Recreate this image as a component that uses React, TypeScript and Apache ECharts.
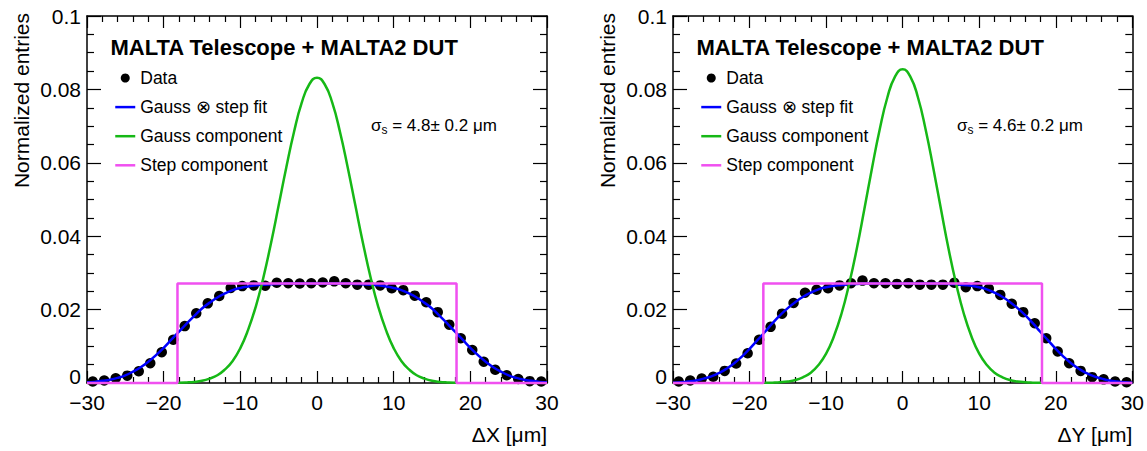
import React, { useEffect, useRef } from 'react';
import * as echarts from 'echarts';

// ---------- data ----------
const binCenters = [
  -29.25, -27.75, -26.25, -24.75, -23.25, -21.75, -20.25, -18.75, -17.25, -15.75,
  -14.25, -12.75, -11.25, -9.75, -8.25, -6.75, -5.25, -3.75, -2.25, -0.75,
  0.75, 2.25, 3.75, 5.25, 6.75, 8.25, 9.75, 11.25, 12.75, 14.25,
  15.75, 17.25, 18.75, 20.25, 21.75, 23.25, 24.75, 26.25, 27.75, 29.25,
];

const dataDX = [
  0.0004, 0.0007, 0.0013, 0.0020, 0.0032, 0.0054, 0.0084, 0.0118, 0.0155, 0.0190,
  0.0217, 0.0237, 0.0259, 0.0264, 0.0266, 0.0265, 0.0273, 0.0272, 0.0271, 0.0272,
  0.0274, 0.0277, 0.0272, 0.0268, 0.0268, 0.0266, 0.0258, 0.0253, 0.0238, 0.0220,
  0.0193, 0.0159, 0.0122, 0.0090, 0.0058, 0.0036, 0.0021, 0.0011, 0.0005, 0.0004,
];

const dataDY = [
  0.0004, 0.0007, 0.0012, 0.0017, 0.0033, 0.0053, 0.0081, 0.0118, 0.0153, 0.0189,
  0.0218, 0.0246, 0.0254, 0.0258, 0.0266, 0.0272, 0.0279, 0.0272, 0.0272, 0.0270,
  0.0272, 0.0268, 0.0268, 0.0268, 0.0273, 0.0261, 0.0264, 0.0257, 0.0240, 0.0216,
  0.0193, 0.0163, 0.0122, 0.0086, 0.0054, 0.0033, 0.0016, 0.0010, 0.0004, 0.0002,
];

const fitX = [
  -30, -29, -28, -27, -26, -25, -24, -23, -22, -21,
  -20, -19, -18, -17, -16, -15, -14, -13, -12, -11,
  -10, -9, -8, -7, -6, -5, -4, -3, -2, -1,
  0,
  1, 2, 3, 4, 5, 6, 7, 8, 9, 10,
  11, 12, 13, 14, 15, 16, 17, 18, 19, 20,
  21, 22, 23, 24, 25, 26, 27, 28, 29, 30,
];

const fitDX = [
  0.0002, 0.0003, 0.0006, 0.0009, 0.0014, 0.0021, 0.0031, 0.0043, 0.0058, 0.0076,
  0.0096, 0.0118, 0.0140, 0.0162, 0.0183, 0.0203, 0.0219, 0.0233, 0.0244, 0.0253,
  0.0259, 0.0263, 0.0266, 0.0268, 0.0269, 0.0270, 0.0271, 0.0271, 0.0271, 0.0271,
  0.0271,
  0.0271, 0.0271, 0.0271, 0.0271, 0.0270, 0.0269, 0.0268, 0.0266, 0.0263, 0.0259,
  0.0253, 0.0244, 0.0233, 0.0219, 0.0203, 0.0183, 0.0162, 0.0140, 0.0118, 0.0096,
  0.0076, 0.0058, 0.0043, 0.0031, 0.0021, 0.0014, 0.0009, 0.0006, 0.0003, 0.0002,
];

const fitDY = [
  0.0001, 0.0002, 0.0004, 0.0007, 0.0012, 0.0018, 0.0027, 0.0039, 0.0054, 0.0072,
  0.0093, 0.0116, 0.0139, 0.0163, 0.0185, 0.0204, 0.0221, 0.0235, 0.0246, 0.0255,
  0.0261, 0.0265, 0.0267, 0.0269, 0.0270, 0.0271, 0.0271, 0.0271, 0.0271, 0.0271,
  0.0271,
  0.0271, 0.0271, 0.0271, 0.0271, 0.0271, 0.0270, 0.0269, 0.0267, 0.0265, 0.0261,
  0.0255, 0.0246, 0.0235, 0.0221, 0.0204, 0.0185, 0.0163, 0.0139, 0.0116, 0.0093,
  0.0072, 0.0054, 0.0039, 0.0027, 0.0018, 0.0012, 0.0007, 0.0004, 0.0002, 0.0001,
];

const gaussX = [
  -18.2, -18, -17, -16, -15, -14, -13, -12, -11, -10,
  -9, -8, -7, -6, -5, -4, -3, -2, -1, 0,
  1, 2, 3, 4, 5, 6, 7, 8, 9, 10,
  11, 12, 13, 14, 15, 16, 17, 18, 18.2,
];

const gaussDX = [
  0.0001, 0.0001, 0.00016, 0.0003, 0.0006, 0.0012, 0.0021, 0.0037, 0.0060, 0.0095,
  0.0144, 0.0207, 0.0287, 0.0381, 0.0484, 0.0588, 0.0684, 0.0763, 0.0814, 0.0832,
  0.0814, 0.0763, 0.0684, 0.0588, 0.0484, 0.0381, 0.0287, 0.0207, 0.0144, 0.0095,
  0.0060, 0.0037, 0.0021, 0.0012, 0.0006, 0.0003, 0.00016, 0.0001, 0.0001,
];

const gaussDY = [
  0.00004, 0.00005, 0.0001, 0.0002, 0.0004, 0.0008, 0.0016, 0.0028, 0.0049, 0.0080,
  0.0126, 0.0188, 0.0269, 0.0365, 0.0474, 0.0586, 0.0691, 0.0778, 0.0835, 0.0855,
  0.0835, 0.0778, 0.0691, 0.0586, 0.0474, 0.0365, 0.0269, 0.0188, 0.0126, 0.0080,
  0.0049, 0.0028, 0.0016, 0.0008, 0.0004, 0.0002, 0.0001, 0.00005, 0.00004,
];

const stepX = [-30, -18.2, -18.2, 18.2, 18.2, 30];
const stepDX = [0, 0, 0.0271, 0.0271, 0, 0];
const stepDY = [0, 0, 0.0271, 0.0271, 0, 0];

const xTitles = ['\u0394X [\u03bcm]', '\u0394Y [\u03bcm]'];
const yTitle = 'Normalized entries';
const headline = 'MALTA Telescope + MALTA2 DUT';
const sigmaValues = ['4.8', '4.6'];
const sigmaErrors = ['0.2', '0.2'];
const legendNames = ['Data', 'Gauss \u2297 step fit', 'Gauss component', 'Step component'];

// ---------- styling ----------
const FONT = "'Liberation Sans', Arial, Helvetica, sans-serif";
const BLUE = '#0000ff';
const GREEN = '#16b816';
const MAGENTA = '#f050f0';
const GRID_LEFTS = [87, 673];
const GRID_WIDTH = 460;
const GRID_TOP = 16;
const GRID_HEIGHT = 367;

const zip = (xs: number[], ys: number[]) => xs.map((x, i) => [x, ys[i]]);
const minusFmt = (v: number) => String(v).replace('-', '\u2212');
const yFmt = (v: number) => (v === 0 ? '{z|0}' : String(v));

function buildOption() {
  const grid: any[] = [];
  const xAxis: any[] = [];
  const yAxis: any[] = [];
  const series: any[] = [];
  const title: any[] = [];
  const legend: any[] = [];

  const panels = [
    { data: dataDX, fit: fitDX, gauss: gaussDX, step: stepDX },
    { data: dataDY, fit: fitDY, gauss: gaussDY, step: stepDY },
  ];

  panels.forEach((p, i) => {
    const left = GRID_LEFTS[i];
    grid.push({ left, top: GRID_TOP, width: GRID_WIDTH, height: GRID_HEIGHT, containLabel: false });

    const tickStyle = { color: '#000', width: 1.2 };
    const commonX = {
      type: 'value', gridIndex: i, min: -30, max: 30, interval: 10,
      axisLine: { show: true, onZero: false, lineStyle: { color: '#000', width: 1.5 } },
      axisTick: { show: true, inside: true, length: 12, lineStyle: tickStyle },
      minorTick: { show: true, splitNumber: 5, length: 6, lineStyle: tickStyle },
      splitLine: { show: false },
      minorSplitLine: { show: false },
    };
    xAxis.push({
      ...commonX,
      position: 'bottom',
      axisLabel: { show: true, margin: 12, fontSize: 21, lineHeight: 15, color: '#000', fontFamily: FONT, formatter: minusFmt },
      name: xTitles[i], nameLocation: 'end', nameGap: 0,
      nameTextStyle: { fontSize: 21, color: '#000', fontFamily: FONT, align: 'right', verticalAlign: 'top', padding: [41, 0, 0, 0] },
    });
    xAxis.push({ ...commonX, position: 'top', axisLabel: { show: false } });

    const commonY = {
      type: 'value', gridIndex: i, min: 0, max: 0.1, interval: 0.02,
      axisLine: { show: true, onZero: false, lineStyle: { color: '#000', width: 1.5 } },
      axisTick: { show: true, inside: true, length: 14, lineStyle: tickStyle },
      minorTick: { show: true, splitNumber: 4, length: 7, lineStyle: tickStyle },
      splitLine: { show: false },
      minorSplitLine: { show: false },
    };
    yAxis.push({
      ...commonY,
      position: 'left',
      axisLabel: {
        show: true, margin: 6, fontSize: 21, lineHeight: 15, color: '#000', fontFamily: FONT, formatter: yFmt,
        rich: { z: { fontSize: 21, lineHeight: 15, color: '#000', fontFamily: FONT, padding: [0, 0, 14, 0] } },
      },
      name: yTitle, nameLocation: 'end', nameRotate: 90, nameGap: 3,
      nameTextStyle: { fontSize: 21, color: '#000', fontFamily: FONT, align: 'right', verticalAlign: 'bottom', padding: [0, 0, 55, 0] },
    });
    yAxis.push({ ...commonY, position: 'right', axisLabel: { show: false } });

    const xi = i * 2;
    const yi = i * 2;
    series.push({
      name: legendNames[0], type: 'scatter', xAxisIndex: xi, yAxisIndex: yi,
      data: zip(binCenters, p.data), symbol: 'circle', symbolSize: 10.5,
      itemStyle: { color: '#000', opacity: 1 }, z: 2,
    });
    series.push({
      name: legendNames[1], type: 'line', xAxisIndex: xi, yAxisIndex: yi,
      data: zip(fitX, p.fit), smooth: true, symbol: 'none', showSymbol: false,
      lineStyle: { color: BLUE, width: 2.5 }, itemStyle: { color: BLUE }, z: 3,
    });
    series.push({
      name: legendNames[2], type: 'line', xAxisIndex: xi, yAxisIndex: yi,
      data: zip(gaussX, p.gauss), smooth: true, symbol: 'none', showSymbol: false,
      lineStyle: { color: GREEN, width: 2.5 }, itemStyle: { color: GREEN }, z: 3,
    });
    series.push({
      name: legendNames[3], type: 'line', xAxisIndex: xi, yAxisIndex: yi,
      data: zip(stepX, p.step), smooth: false, symbol: 'none', showSymbol: false, clip: false,
      lineStyle: { color: MAGENTA, width: 2.5 }, itemStyle: { color: MAGENTA }, z: 3,
    });

    const off = left - GRID_LEFTS[0];
    title.push({
      text: headline, left: 110.5 + off, top: 35, padding: 0,
      textStyle: { fontSize: 22, fontWeight: 'bold', color: '#000', fontFamily: FONT, lineHeight: 24 },
    });
    title.push({
      text: `{a|\u03c3}{s|s}{a| = ${sigmaValues[i]}\u00b1 ${sigmaErrors[i]} \u03bcm}`,
      left: 371 + off, top: 114, padding: 0,
      textStyle: {
        fontWeight: 'normal',
        rich: {
          a: { fontSize: 17, lineHeight: 22, color: '#000', fontFamily: FONT, fontWeight: 'normal' },
          s: { fontSize: 12, lineHeight: 12, color: '#000', fontFamily: FONT, fontWeight: 'normal', verticalAlign: 'bottom' },
        },
      },
    });
    const hiddenSymbol = { opacity: 0 };
    legend.push({
      left: 114 + off, top: 68, orient: 'vertical', padding: 0,
      itemWidth: 20, itemHeight: 9, itemGap: 9.1, selectedMode: false,
      textStyle: { fontSize: 17.5, lineHeight: 20, color: '#000', fontFamily: FONT },
      data: [
        { name: legendNames[0], icon: 'circle', itemStyle: { color: '#000', opacity: 1 } },
        { name: legendNames[1], itemStyle: hiddenSymbol, lineStyle: { color: BLUE, width: 2.5, opacity: 1 } },
        { name: legendNames[2], itemStyle: hiddenSymbol, lineStyle: { color: GREEN, width: 2.5, opacity: 1 } },
        { name: legendNames[3], itemStyle: hiddenSymbol, lineStyle: { color: MAGENTA, width: 2.5, opacity: 1 } },
      ],
    });
  });

  return {
    animation: false,
    backgroundColor: '#fff',
    textStyle: { fontFamily: FONT },
    grid, xAxis, yAxis, series, title, legend,
  };
}

export default function App() {
  const ref = useRef<HTMLDivElement>(null);
  useEffect(() => {
    if (!ref.current) return;
    const chart = echarts.init(ref.current, null, { renderer: 'svg' });
    chart.setOption(buildOption() as any);
    return () => chart.dispose();
  }, []);
  return (
    <div
      ref={ref}
      style={{ position: 'absolute', left: 0, top: 0, width: 1147, height: 451, background: '#fff' }}
    />
  );
}
